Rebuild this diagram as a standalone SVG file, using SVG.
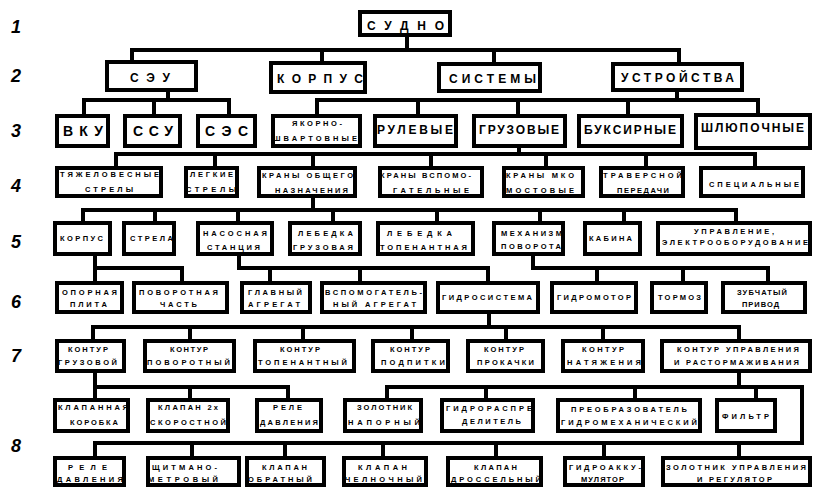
<svg xmlns="http://www.w3.org/2000/svg" width="814" height="487" viewBox="0 0 814 487">
<style>
.b{fill:#fff;stroke:#000;stroke-width:4}
.c{fill:none;stroke:#000;stroke-width:4;stroke-linejoin:miter;stroke-linecap:square}
text{font-family:"Liberation Sans",Arial,sans-serif;font-weight:bold;fill:#000}
.t{text-anchor:middle}
.s{font-size:7.5px}
.m{font-size:12px}
.l{font-size:14px}
.n{font-size:18px;font-style:italic}
</style>
<rect width="814" height="487" fill="#fff"/>
<g id="row-labels">
<text class="n" x="11" y="33">1</text>
<text class="n" x="11" y="82">2</text>
<text class="n" x="11" y="137">3</text>
<text class="n" x="11" y="192">4</text>
<text class="n" x="11" y="248">5</text>
<text class="n" x="11" y="308">6</text>
<text class="n" x="11" y="362">7</text>
<text class="n" x="11" y="452">8</text>
</g>
<g id="connectors" class="c">
<path class="c" d="M407 37V50M132 60V50H679V62M322 50V61M494 50V62"/>
<path class="c" d="M168 92V100M84 114V100H229V114M154 100V114"/>
<path class="c" d="M677 92V100M317 114V100H758V113M418 100V114M518 100V114M628 100V114"/>
<path class="c" d="M519 148V154M116 166V154H755V166M215 154V166M313 154V166M431 154V166M546 154V166M646 154V166"/>
<path class="c" d="M313 198V210M83 221V210H736V221M155 210V221M238 210V221M333 210V221M437 210V221M540 210V221M624 210V221"/>
<path class="c" d="M95 256V281M95 268H182V281"/>
<path class="c" d="M239 256V268H488V281M270 268V281M360 268V281"/>
<path class="c" d="M533 256V268H768V281M597 268V281M683 268V281"/>
<path class="c" d="M489 314V327M93 339V327H739V339M190 327V339M303 327V339M412 327V339M506 327V339M603 327V339"/>
<path class="c" d="M95 373V398M95 387H288V398M190 387V398"/>
<path class="c" d="M739 373V387M387 398V387H802V443H95V456M486 387V398M635 387V398M756 387V398M192 443V456M285 443V456M383 443V456M496 443V456M604 443V456M739 443V456"/>
</g>
<g id="n-sudno"><rect class="b" x="360" y="12" width="90" height="23"/><text class="t m" x="405.5" y="30" textLength="77" lengthAdjust="spacing">СУДНО</text></g>
<g id="n-seu"><rect class="b" x="107" y="62" width="89" height="28"/><text class="t m" x="150" y="82" textLength="40" lengthAdjust="spacing">СЭУ</text></g>
<g id="n-korpus"><rect class="b" x="271" y="63" width="94" height="29"/><text class="t m" x="320" y="83" textLength="86" lengthAdjust="spacing">КОРПУС</text></g>
<g id="n-sistemy"><rect class="b" x="439" y="64" width="101" height="27"/><text class="t m" x="492.5" y="83" textLength="87" lengthAdjust="spacing">СИСТЕМЫ</text></g>
<g id="n-ustroystva"><rect class="b" x="613" y="64" width="129" height="26"/><text class="t m" x="677.5" y="82" textLength="113" lengthAdjust="spacing">УСТРОЙСТВА</text></g>
<g id="n-vku"><rect class="b" x="57" y="116" width="51" height="30"/><text class="t l" x="83" y="136" textLength="40" lengthAdjust="spacing">ВКУ</text></g>
<g id="n-ssu"><rect class="b" x="125" y="116" width="55" height="30"/><text class="t l" x="153" y="136" textLength="40" lengthAdjust="spacing">ССУ</text></g>
<g id="n-ses"><rect class="b" x="198" y="116" width="57" height="30"/><text class="t l" x="226.5" y="136" textLength="43" lengthAdjust="spacing">СЭС</text></g>
<g id="n-yakorno"><rect class="b" x="273" y="116" width="87" height="30"/><text class="t s" x="317" y="126" textLength="50" lengthAdjust="spacing">ЯКОРНО-</text><text class="t s" x="315" y="141" textLength="84" lengthAdjust="spacing">ШВАРТОВНЫЕ</text></g>
<g id="n-rulevye"><rect class="b" x="375" y="116" width="81" height="30"/><text class="t m" x="415" y="134" textLength="76" lengthAdjust="spacing">РУЛЕВЫЕ</text></g>
<g id="n-gruzovye"><rect class="b" x="474" y="116" width="91" height="30"/><text class="t m" x="519" y="134" textLength="80" lengthAdjust="spacing">ГРУЗОВЫЕ</text></g>
<g id="n-buksirnye"><rect class="b" x="579" y="116" width="103" height="30"/><text class="t m" x="630" y="134" textLength="92" lengthAdjust="spacing">БУКСИРНЫЕ</text></g>
<g id="n-shlyupochnye"><rect class="b" x="696" y="115" width="114" height="33"/><text class="t m" x="752.5" y="132" textLength="103" lengthAdjust="spacing">ШЛЮПОЧНЫЕ</text></g>
<g id="n-tyazh"><rect class="b" x="57" y="168" width="104" height="28"/><text class="t s" x="109.5" y="177" textLength="99" lengthAdjust="spacing">ТЯЖЕЛОВЕСНЫЕ</text><text class="t s" x="109" y="192" textLength="48" lengthAdjust="spacing">СТРЕЛЫ</text></g>
<g id="n-legkie"><rect class="b" x="186" y="168" width="51" height="28"/><text class="t s" x="211.5" y="177" textLength="43" lengthAdjust="spacing">ЛЕГКИЕ</text><text class="t s" x="211" y="192" textLength="50" lengthAdjust="spacing">СТРЕЛЫ</text></g>
<g id="n-krany-obsh"><rect class="b" x="259" y="168" width="96" height="28"/><text class="t s" x="307.5" y="178" textLength="91" lengthAdjust="spacing">КРАНЫ ОБЩЕГО</text><text class="t s" x="311.5" y="193" textLength="73" lengthAdjust="spacing">НАЗНАЧЕНИЯ</text></g>
<g id="n-krany-vsp"><rect class="b" x="380" y="168" width="102" height="28"/><text class="t s" x="425.5" y="178" textLength="91" lengthAdjust="spacing">КРАНЫ ВСПОМО-</text><text class="t s" x="431" y="193" textLength="76" lengthAdjust="spacing">ГАТЕЛЬНЫЕ</text></g>
<g id="n-krany-mko"><rect class="b" x="504" y="168" width="79" height="28"/><text class="t s" x="540" y="178" textLength="68" lengthAdjust="spacing">КРАНЫ МКО</text><text class="t s" x="540" y="193" textLength="68" lengthAdjust="spacing">МОСТОВЫЕ</text></g>
<g id="n-travers"><rect class="b" x="601" y="168" width="82" height="28"/><text class="t s" x="642.5" y="178" textLength="79" lengthAdjust="spacing">ТРАВЕРСНОЙ</text><text class="t s" x="643" y="193" textLength="52" lengthAdjust="spacing">ПЕРЕДАЧИ</text></g>
<g id="n-specialnye"><rect class="b" x="701" y="168" width="102" height="28"/><text class="t s" x="754" y="187" textLength="90" lengthAdjust="spacing">СПЕЦИАЛЬНЫЕ</text></g>
<g id="n-korpus5"><rect class="b" x="55" y="223" width="55" height="31"/><text class="t s" x="81.5" y="241" textLength="43" lengthAdjust="spacing">КОРПУС</text></g>
<g id="n-strela"><rect class="b" x="124" y="223" width="50" height="31"/><text class="t s" x="151.5" y="241" textLength="43" lengthAdjust="spacing">СТРЕЛА</text></g>
<g id="n-nasos"><rect class="b" x="198" y="223" width="74" height="31"/><text class="t s" x="235" y="236" textLength="64" lengthAdjust="spacing">НАСОСНАЯ</text><text class="t s" x="233.5" y="250" textLength="53" lengthAdjust="spacing">СТАНЦИЯ</text></g>
<g id="n-lebedka-gr"><rect class="b" x="290" y="223" width="70" height="31"/><text class="t s" x="325.5" y="236" textLength="55" lengthAdjust="spacing">ЛЕБЕДКА</text><text class="t s" x="323" y="250" textLength="60" lengthAdjust="spacing">ГРУЗОВАЯ</text></g>
<g id="n-lebedka-top"><rect class="b" x="378" y="223" width="95" height="31"/><text class="t s" x="419.5" y="236" textLength="65" lengthAdjust="spacing">ЛЕБЕДКА</text><text class="t s" x="423.5" y="250" textLength="87" lengthAdjust="spacing">ТОПЕНАНТНАЯ</text></g>
<g id="n-mehanizm"><rect class="b" x="494" y="223" width="69" height="31"/><text class="t s" x="531.5" y="236" textLength="61" lengthAdjust="spacing">МЕХАНИЗМ</text><text class="t s" x="531" y="249" textLength="60" lengthAdjust="spacing">ПОВОРОТА</text></g>
<g id="n-kabina"><rect class="b" x="585" y="223" width="55" height="31"/><text class="t s" x="610.5" y="241" textLength="43" lengthAdjust="spacing">КАБИНА</text></g>
<g id="n-upravlenie"><rect class="b" x="658" y="223" width="152" height="31"/><text class="t s" x="734" y="234" textLength="80" lengthAdjust="spacing">УПРАВЛЕНИЕ,</text><text class="t s" x="735" y="245" textLength="146" lengthAdjust="spacing">ЭЛЕКТРООБОРУДОВАНИЕ</text></g>
<g id="n-opornaya"><rect class="b" x="57" y="283" width="65" height="29"/><text class="t s" x="89.5" y="295" textLength="55" lengthAdjust="spacing">ОПОРНАЯ</text><text class="t s" x="88.5" y="307" textLength="37" lengthAdjust="spacing">ПЛИТА</text></g>
<g id="n-povorotnaya"><rect class="b" x="134" y="283" width="93" height="29"/><text class="t s" x="178.5" y="295" textLength="79" lengthAdjust="spacing">ПОВОРОТНАЯ</text><text class="t s" x="178.5" y="307" textLength="37" lengthAdjust="spacing">ЧАСТЬ</text></g>
<g id="n-glavny"><rect class="b" x="242" y="283" width="68" height="29"/><text class="t s" x="275" y="295" textLength="54" lengthAdjust="spacing">ГЛАВНЫЙ</text><text class="t s" x="274" y="307" textLength="52" lengthAdjust="spacing">АГРЕГАТ</text></g>
<g id="n-vspom"><rect class="b" x="322" y="283" width="103" height="29"/><text class="t s" x="373.5" y="295" textLength="97" lengthAdjust="spacing">ВСПОМОГАТЕЛЬ-</text><text class="t s" x="374.5" y="307" textLength="83" lengthAdjust="spacing">НЫЙ АГРЕГАТ</text></g>
<g id="n-gidrosistema"><rect class="b" x="438" y="283" width="100" height="29"/><text class="t s" x="487" y="300" textLength="90" lengthAdjust="spacing">ГИДРОСИСТЕМА</text></g>
<g id="n-gidromotor"><rect class="b" x="552" y="283" width="84" height="29"/><text class="t s" x="594" y="300" textLength="74" lengthAdjust="spacing">ГИДРОМОТОР</text></g>
<g id="n-tormoz"><rect class="b" x="652" y="283" width="54" height="29"/><text class="t s" x="679.5" y="300" textLength="43" lengthAdjust="spacing">ТОРМОЗ</text></g>
<g id="n-zubchaty"><rect class="b" x="723" y="283" width="82" height="29"/><text class="t s" x="762" y="295" textLength="50" lengthAdjust="spacing">ЗУБЧАТЫЙ</text><text class="t s" x="760.5" y="307" textLength="37" lengthAdjust="spacing">ПРИВОД</text></g>
<g id="n-k-gruz"><rect class="b" x="57" y="341" width="67" height="30"/><text class="t s" x="88" y="352" textLength="40" lengthAdjust="spacing">КОНТУР</text><text class="t s" x="87.5" y="365" textLength="59" lengthAdjust="spacing">ГРУЗОВОЙ</text></g>
<g id="n-k-povor"><rect class="b" x="145" y="341" width="89" height="30"/><text class="t s" x="189" y="352" textLength="38" lengthAdjust="spacing">КОНТУР</text><text class="t s" x="188.5" y="365" textLength="83" lengthAdjust="spacing">ПОВОРОТНЫЙ</text></g>
<g id="n-k-topen"><rect class="b" x="255" y="341" width="99" height="30"/><text class="t s" x="300" y="352" textLength="40" lengthAdjust="spacing">КОНТУР</text><text class="t s" x="302.5" y="365" textLength="89" lengthAdjust="spacing">ТОПЕНАНТНЫЙ</text></g>
<g id="n-k-podpitki"><rect class="b" x="373" y="341" width="75" height="30"/><text class="t s" x="410" y="352" textLength="40" lengthAdjust="spacing">КОНТУР</text><text class="t s" x="413" y="365" textLength="64" lengthAdjust="spacing">ПОДПИТКИ</text></g>
<g id="n-k-prokachki"><rect class="b" x="468" y="341" width="75" height="30"/><text class="t s" x="504" y="352" textLength="40" lengthAdjust="spacing">КОНТУР</text><text class="t s" x="505.5" y="365" textLength="57" lengthAdjust="spacing">ПРОКАЧКИ</text></g>
<g id="n-k-natyazh"><rect class="b" x="563" y="341" width="80" height="30"/><text class="t s" x="603" y="352" textLength="42" lengthAdjust="spacing">КОНТУР</text><text class="t s" x="604" y="365" textLength="74" lengthAdjust="spacing">НАТЯЖЕНИЯ</text></g>
<g id="n-k-upr"><rect class="b" x="662" y="341" width="148" height="30"/><text class="t s" x="738" y="352" textLength="122" lengthAdjust="spacing">КОНТУР УПРАВЛЕНИЯ</text><text class="t s" x="736.5" y="365" textLength="125" lengthAdjust="spacing">И РАСТОРМАЖИВАНИЯ</text></g>
<g id="n-klapannaya"><rect class="b" x="55" y="400" width="73" height="31"/><text class="t s" x="93" y="410" textLength="70" lengthAdjust="spacing">КЛАПАННАЯ</text><text class="t s" x="94" y="425" textLength="48" lengthAdjust="spacing">КОРОБКА</text></g>
<g id="n-klapan2x"><rect class="b" x="148" y="400" width="80" height="31"/><text class="t s" x="188" y="410" textLength="60" lengthAdjust="spacing">КЛАПАН 2х</text><text class="t s" x="188" y="425" textLength="76" lengthAdjust="spacing">СКОРОСТНОЙ</text></g>
<g id="n-rele1"><rect class="b" x="257" y="400" width="64" height="31"/><text class="t s" x="287.5" y="410" textLength="29" lengthAdjust="spacing">РЕЛЕ</text><text class="t s" x="289" y="425" textLength="58" lengthAdjust="spacing">ДАВЛЕНИЯ</text></g>
<g id="n-zolotnik-nap"><rect class="b" x="345" y="400" width="76" height="31"/><text class="t s" x="384.5" y="410" textLength="55" lengthAdjust="spacing">ЗОЛОТНИК</text><text class="t s" x="384" y="425" textLength="72" lengthAdjust="spacing">НАПОРНЫЙ</text></g>
<g id="n-gidroraspr"><rect class="b" x="442" y="400" width="91" height="31"/><text class="t s" x="489" y="411" textLength="86" lengthAdjust="spacing">ГИДРОРАСПРЕ</text><text class="t s" x="491.5" y="424" textLength="59" lengthAdjust="spacing">ДЕЛИТЕЛЬ</text></g>
<g id="n-preobr"><rect class="b" x="558" y="400" width="142" height="31"/><text class="t s" x="629" y="412" textLength="116" lengthAdjust="spacing">ПРЕОБРАЗОВАТЕЛЬ</text><text class="t s" x="629" y="425" textLength="136" lengthAdjust="spacing">ГИДРОМЕХАНИЧЕСКИЙ</text></g>
<g id="n-filtr"><rect class="b" x="717" y="400" width="58" height="31"/><text class="t s" x="745.5" y="419" textLength="47" lengthAdjust="spacing">ФИЛЬТР</text></g>
<g id="n-rele2"><rect class="b" x="55" y="458" width="69" height="27"/><text class="t s" x="87.5" y="470" textLength="39" lengthAdjust="spacing">РЕЛЕ</text><text class="t s" x="90" y="482" textLength="66" lengthAdjust="spacing">ДАВЛЕНИЯ</text></g>
<g id="n-shchit"><rect class="b" x="148" y="458" width="91" height="27"/><text class="t s" x="184.5" y="470" textLength="65" lengthAdjust="spacing">ЩИТМАНО-</text><text class="t s" x="183" y="482" textLength="70" lengthAdjust="spacing">МЕТРОВЫЙ</text></g>
<g id="n-klapan-obr"><rect class="b" x="247" y="458" width="77" height="27"/><text class="t s" x="284.5" y="470" textLength="45" lengthAdjust="spacing">КЛАПАН</text><text class="t s" x="280" y="482" textLength="64" lengthAdjust="spacing">ОБРАТНЫЙ</text></g>
<g id="n-klapan-cheln"><rect class="b" x="344" y="458" width="82" height="27"/><text class="t s" x="382.5" y="470" textLength="49" lengthAdjust="spacing">КЛАПАН</text><text class="t s" x="383.5" y="482" textLength="77" lengthAdjust="spacing">ЧЕЛНОЧНЫЙ</text></g>
<g id="n-klapan-dross"><rect class="b" x="448" y="458" width="93" height="27"/><text class="t s" x="495.5" y="470" textLength="43" lengthAdjust="spacing">КЛАПАН</text><text class="t s" x="496" y="482" textLength="90" lengthAdjust="spacing">ДРОССЕЛЬНЫЙ</text></g>
<g id="n-gidroakk"><rect class="b" x="565" y="458" width="78" height="27"/><text class="t s" x="605" y="470" textLength="72" lengthAdjust="spacing">ГИДРОАККУ-</text><text class="t s" x="602.5" y="482" textLength="43" lengthAdjust="spacing">МУЛЯТОР</text></g>
<g id="n-zolotnik-upr"><rect class="b" x="663" y="458" width="147" height="27"/><text class="t s" x="736" y="470" textLength="140" lengthAdjust="spacing">ЗОЛОТНИК УПРАВЛЕНИЯ</text><text class="t s" x="734.5" y="482" textLength="75" lengthAdjust="spacing">И РЕГУЛЯТОР</text></g>
</svg>
